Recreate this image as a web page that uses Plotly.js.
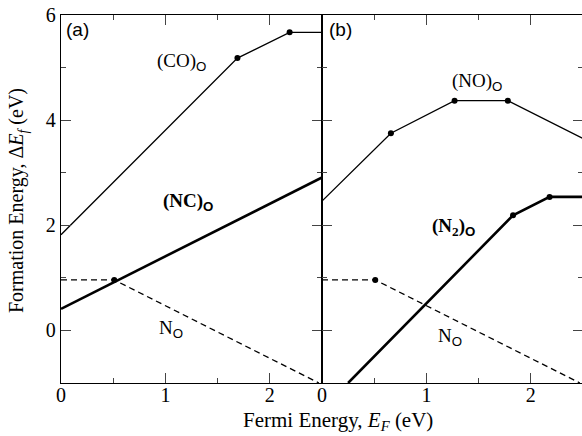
<!DOCTYPE html>
<html><head><meta charset="utf-8">
<script src="https://cdn.plot.ly/plotly-3.0.1.min.js"></script>
<style>html,body{margin:0;padding:0;overflow:hidden;background:#fff}#chart{width:590px;height:436px}</style>
</head><body><div id="chart"></div>
<script>
// Panel (a)
const coX = [0, 1.69, 2.19, 2.5];
const coY = [1.82, 5.18, 5.67, 5.67];
const coKinkX = [1.69, 2.19];
const coKinkY = [5.18, 5.67];
const ncX = [0, 2.5];
const ncY = [0.41, 2.91];
const nOaX = [0, 0.51, 2.47];
const nOaY = [0.96, 0.96, -1];
const nOaKinkX = [0.51];
const nOaKinkY = [0.96];
// Panel (b)
const noX = [0, 0.66, 1.27, 1.78, 2.5];
const noY = [2.46, 3.75, 4.37, 4.37, 3.65];
const noKinkX = [0.66, 1.27, 1.78];
const noKinkY = [3.75, 4.37, 4.37];
const n2X = [0.25, 1.83, 2.18, 2.5];
const n2Y = [-1, 2.19, 2.54, 2.54];
const n2KinkX = [1.83, 2.18];
const n2KinkY = [2.19, 2.54];
const nObX = [0, 0.51, 2.47];
const nObY = [0.96, 0.96, -1];
const nObKinkX = [0.51];
const nObKinkY = [0.96];

const xTicks = [0, 1, 2];
const yTicks = [0, 2, 4, 6];

const serif = "Liberation Serif, Times New Roman, serif";
const sans = "Liberation Sans, Arial, sans-serif";
const sub = s => `<sub><span style="font-family:${sans}">${s}</span></sub>`;

function line(x, y, xa, ya, w, dash) {
  return {x, y, xaxis: xa, yaxis: ya, mode: 'lines', hoverinfo: 'skip',
          line: {color: '#000', width: w, dash: dash || 'solid'}, showlegend: false};
}
function dots(x, y, xa, ya) {
  return {x, y, xaxis: xa, yaxis: ya, mode: 'markers', hoverinfo: 'skip',
          marker: {color: '#000', size: 6}, showlegend: false};
}

const data = [
  line(coX, coY, 'x', 'y', 1.3), dots(coKinkX, coKinkY, 'x', 'y'),
  line(ncX, ncY, 'x', 'y', 2.6),
  line(nOaX, nOaY, 'x', 'y', 1.3, '6px,4px'), dots(nOaKinkX, nOaKinkY, 'x', 'y'),
  line(noX, noY, 'x2', 'y2', 1.3), dots(noKinkX, noKinkY, 'x2', 'y2'),
  line(n2X, n2Y, 'x2', 'y2', 2.6), dots(n2KinkX, n2KinkY, 'x2', 'y2'),
  line(nObX, nObY, 'x2', 'y2', 1.3, '6px,4px'), dots(nObKinkX, nObKinkY, 'x2', 'y2')
];

const xBase = {
  range: [0, 2.5], tickvals: xTicks, ticktext: xTicks.map(String),
  ticks: 'inside', ticklen: 10, tickwidth: 1, tickcolor: '#444', ticklabelstandoff: -6,
  minor: {dtick: 0.5, tick0: 0, ticks: 'inside', ticklen: 5, tickcolor: '#444'},
  showline: true, linecolor: '#000', linewidth: 1.2, mirror: 'ticks',
  showgrid: false, zeroline: false, tickfont: {family: serif, size: 20, color: '#000'}
};
const yBase = {
  range: [-1, 6], tickvals: yTicks, ticktext: yTicks.map(String),
  ticks: 'inside', ticklen: 10, tickwidth: 1, tickcolor: '#444',
  minor: {dtick: 1, tick0: 0, ticks: 'inside', ticklen: 5, tickcolor: '#444'},
  showline: true, linecolor: '#000', linewidth: 1.2, mirror: 'ticks',
  showgrid: false, zeroline: false, tickfont: {family: serif, size: 20, color: '#000'}
};

const ann = (text, x, y, xref, yref, font) => ({
  text, x, y, xref, yref, xanchor: 'left', yanchor: 'middle', showarrow: false,
  font: font || {family: serif, size: 19, color: '#000'}
});

const layout = {
  width: 590, height: 436,
  margin: {l: 61, r: 7, t: 15, b: 53},
  paper_bgcolor: '#fff', plot_bgcolor: '#fff',
  xaxis: Object.assign({}, xBase, {domain: [0, 0.5], anchor: 'y'}),
  xaxis2: Object.assign({}, xBase, {domain: [0.5, 1], anchor: 'y2'}),
  yaxis: Object.assign({}, yBase, {anchor: 'x'}),
  yaxis2: Object.assign({}, yBase, {anchor: 'x2', showticklabels: false}),
  annotations: [
    ann('(a)', 0.03, 5.73, 'x', 'y', {family: sans, size: 19, color: '#000'}),
    ann('(b)', 0.05, 5.73, 'x2', 'y2', {family: sans, size: 19, color: '#000'}),
    ann('(CO)' + sub('O'), 0.9, 5.1, 'x', 'y'),
    ann('<b>(NC)</b>' + sub('<b>O</b>'), 0.96, 2.45, 'x', 'y'),
    ann('N' + sub('O'), 0.92, 0.02, 'x', 'y'),
    ann('(NO)' + sub('O'), 1.23, 4.72, 'x2', 'y2'),
    ann('<b>(N</b><sub><b>2</b></sub><b>)</b>' + sub('<b>O</b>'), 1.03, 1.97, 'x2', 'y2'),
    ann('N' + sub('O'), 1.09, -0.13, 'x2', 'y2'),
    {text: 'Formation Energy, Δ<i>E</i><sub><i>f</i></sub> (eV)', xref: 'paper', yref: 'paper',
     x: -0.082, y: 0.495, xanchor: 'center', yanchor: 'middle', textangle: -90, showarrow: false,
     font: {family: serif, size: 20, color: '#000'}},
    {text: 'Fermi Energy, <i>E</i><sub><i>F</i></sub> (eV)', xref: 'paper', yref: 'paper',
     x: 0.53, y: -0.102, xanchor: 'center', yanchor: 'middle', showarrow: false,
     font: {family: serif, size: 21, color: '#000'}}
  ]
};

Plotly.newPlot('chart', data, layout, {displayModeBar: false, staticPlot: true});
</script></body></html>
